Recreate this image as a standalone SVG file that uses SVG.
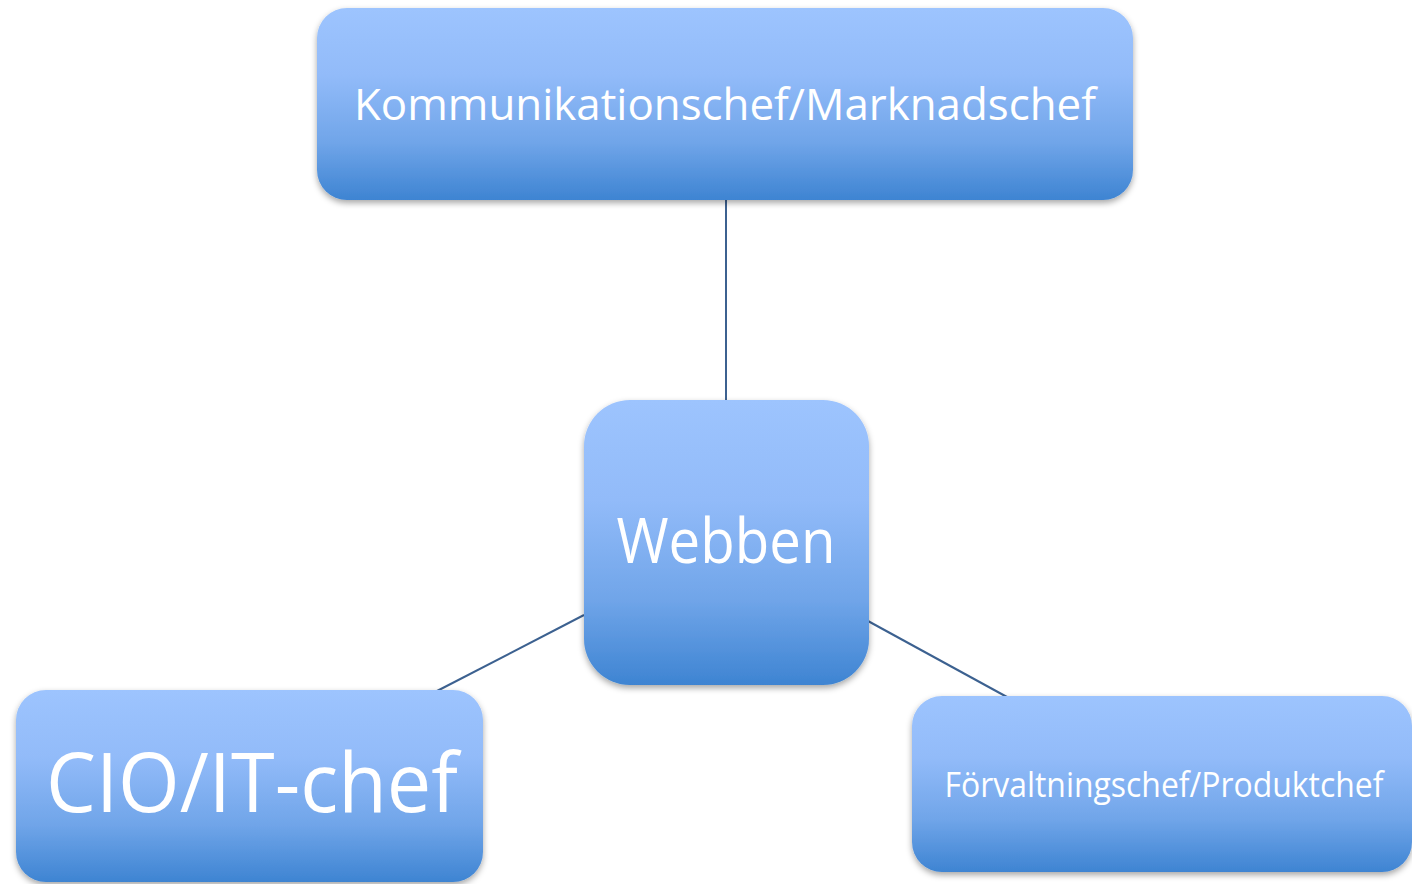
<svg xmlns="http://www.w3.org/2000/svg" width="1412" height="884" viewBox="0 0 1412 884">
<style>
.node{fill:url(#g);filter:url(#sh)}
.lbl{fill:#ffffff;font-family:"Open Sans","Liberation Sans",sans-serif;text-anchor:middle}
.conn{stroke:#3c6190;stroke-width:2;fill:none}
</style>
<defs>
<linearGradient id="g" x1="0" y1="0" x2="0" y2="1">
<stop offset="0" stop-color="#9dc4fe"/>
<stop offset="0.35" stop-color="#92bbf9"/>
<stop offset="0.7" stop-color="#70a5e9"/>
<stop offset="1" stop-color="#3e84d2"/>
</linearGradient>
<filter id="sh" x="-10%" y="-10%" width="120%" height="130%">
<feDropShadow dx="0" dy="3" stdDeviation="3" flood-color="#000" flood-opacity="0.35"/>
</filter>
</defs>
<rect width="1412" height="884" fill="#ffffff"/>
<g id="connectors">
<line class="conn" x1="726" y1="200" x2="726" y2="401"/>
<line class="conn" x1="584" y1="615" x2="437" y2="691"/>
<line class="conn" x1="868" y1="621" x2="1007" y2="697"/>
</g>
<g id="node-top">
<rect class="node" x="317" y="8" width="816" height="192" rx="30"/>
<text class="lbl" x="725" y="120" font-size="44" textLength="742" lengthAdjust="spacingAndGlyphs">Kommunikationschef/Marknadschef</text>
</g>
<g id="node-center">
<rect class="node" x="584" y="400" width="285" height="285" rx="46"/>
<text class="lbl" x="726" y="563" font-size="62" textLength="219" lengthAdjust="spacingAndGlyphs">Webben</text>
</g>
<g id="node-left">
<rect class="node" x="16" y="690" width="467" height="192" rx="30"/>
<text class="lbl" x="252" y="812" font-size="83" textLength="412" lengthAdjust="spacingAndGlyphs">CIO/IT-chef</text>
</g>
<g id="node-right">
<rect class="node" x="912" y="696" width="500" height="176" rx="30"/>
<text class="lbl" x="1164" y="797" font-size="34" textLength="439" lengthAdjust="spacingAndGlyphs">Förvaltningschef/Produktchef</text>
</g>
</svg>
